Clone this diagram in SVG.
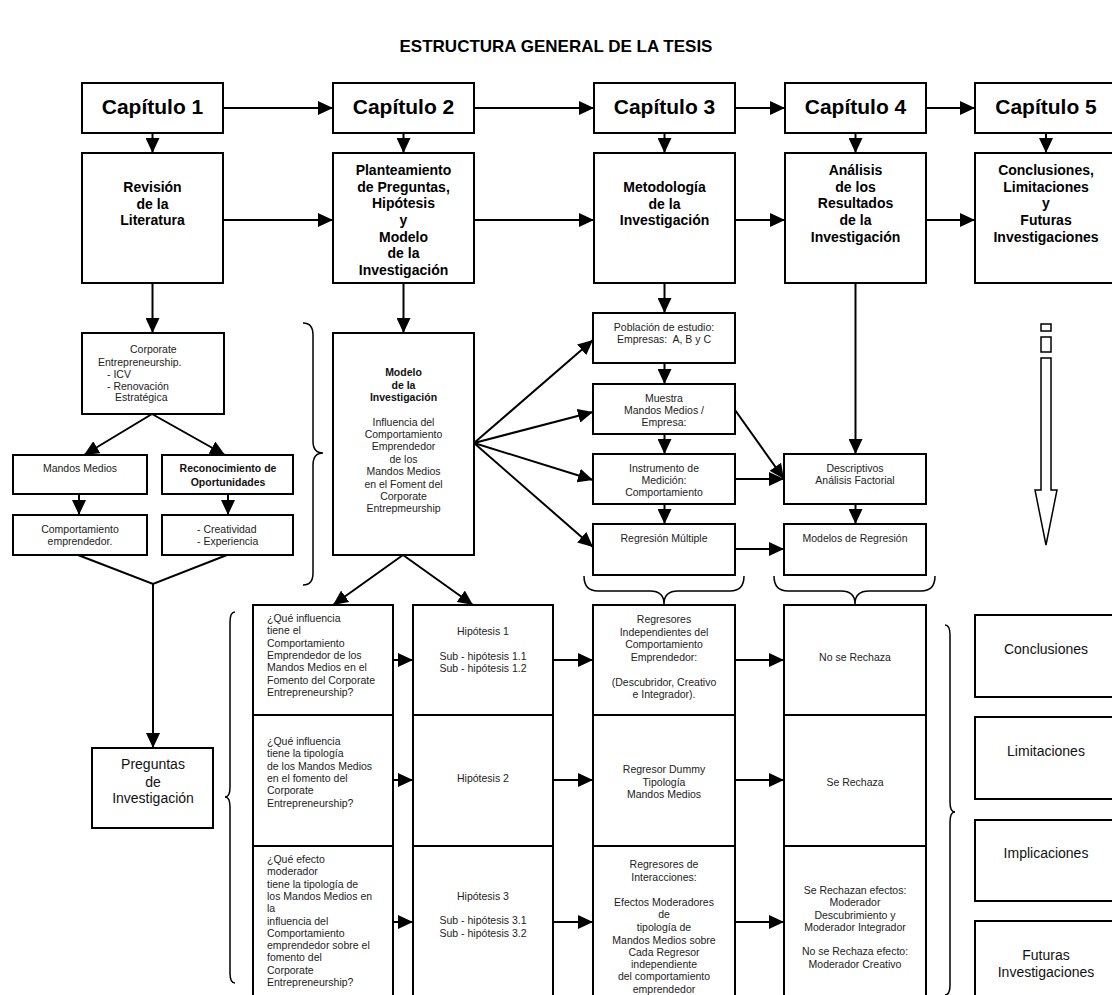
<svg xmlns="http://www.w3.org/2000/svg" width="1112" height="995" viewBox="0 0 1112 995">
<defs>
<marker id="ah" markerUnits="userSpaceOnUse" markerWidth="15" markerHeight="14" refX="15" refY="7" orient="auto">
<path d="M0,0 L15,7 L0,14 z" fill="#000"/>
</marker>
<style>
.box{fill:#fff;stroke:#000;stroke-width:2}
.title{font:bold 17px "Liberation Sans",Arial,sans-serif;text-anchor:middle;fill:#000}
.cap{font:bold 21px "Liberation Sans",Arial,sans-serif;text-anchor:middle;fill:#000}
.bt{font:bold 14px "Liberation Sans",Arial,sans-serif;text-anchor:middle;fill:#000}
.sb{font:bold 10.5px "Liberation Sans",Arial,sans-serif;text-anchor:middle;fill:#111}
.st{font:10.5px "Liberation Sans",Arial,sans-serif;text-anchor:middle;fill:#222}
.sl{font:10.5px "Liberation Sans",Arial,sans-serif;text-anchor:start;fill:#222}
.lt{font:14px "Liberation Sans",Arial,sans-serif;text-anchor:middle;fill:#111}
.c{stroke:#000;stroke-width:2;fill:none;marker-end:url(#ah)}
.l{stroke:#000;stroke-width:2;fill:none}
.br{stroke:#000;stroke-width:1.5;fill:none}
</style>
</defs>
<rect width="1112" height="995" fill="#fff"/>
<text class="title" x="556" y="52">ESTRUCTURA GENERAL DE LA TESIS</text>

<g id="connectors">
<line class="c" x1="223" y1="108" x2="333" y2="108"/>
<line class="c" x1="474" y1="108" x2="594" y2="108"/>
<line class="c" x1="735" y1="108" x2="785" y2="108"/>
<line class="c" x1="926" y1="108" x2="975" y2="108"/>
<line class="c" x1="223" y1="220" x2="333" y2="220"/>
<line class="c" x1="474" y1="220" x2="594" y2="220"/>
<line class="c" x1="735" y1="220" x2="785" y2="220"/>
<line class="c" x1="926" y1="220" x2="975" y2="220"/>
<line class="c" x1="152.5" y1="133" x2="152.5" y2="153"/>
<line class="c" x1="403.5" y1="133" x2="403.5" y2="153"/>
<line class="c" x1="664.5" y1="133" x2="664.5" y2="153"/>
<line class="c" x1="855.5" y1="133" x2="855.5" y2="153"/>
<line class="c" x1="1046" y1="133" x2="1046" y2="153"/>
<line class="c" x1="152.5" y1="283" x2="152.5" y2="333"/>
<line class="c" x1="403.5" y1="283" x2="403.5" y2="333"/>
<line class="c" x1="664.5" y1="283" x2="664.5" y2="313"/>
<line class="c" x1="855.5" y1="283" x2="855.5" y2="454"/>
<line class="c" x1="152" y1="414" x2="84" y2="455"/>
<line class="c" x1="152" y1="414" x2="225" y2="455"/>
<line class="c" x1="79" y1="494" x2="79" y2="515"/>
<line class="c" x1="228" y1="494" x2="228" y2="515"/>
<polyline class="l" points="78,555 153,584 227,555"/>
<line class="c" x1="153" y1="584" x2="153" y2="748"/>
<line class="c" x1="474" y1="443" x2="593" y2="340"/>
<line class="c" x1="474" y1="443" x2="593" y2="412"/>
<line class="c" x1="474" y1="443" x2="593" y2="480"/>
<line class="c" x1="474" y1="443" x2="593" y2="547"/>
<line class="c" x1="664.5" y1="363" x2="664.5" y2="384"/>
<line class="c" x1="664.5" y1="434" x2="664.5" y2="454"/>
<line class="c" x1="664.5" y1="504" x2="664.5" y2="524"/>
<line class="c" x1="735" y1="410" x2="784" y2="479"/>
<line class="c" x1="735" y1="479" x2="784" y2="479"/>
<line class="c" x1="735" y1="549" x2="784" y2="549"/>
<line class="c" x1="855.5" y1="504" x2="855.5" y2="524"/>
<line class="c" x1="403" y1="555" x2="333" y2="605"/>
<line class="c" x1="403" y1="555" x2="473" y2="605"/>
<line class="c" x1="393" y1="660" x2="413" y2="660"/>
<line class="c" x1="393" y1="780" x2="413" y2="780"/>
<line class="c" x1="393" y1="922" x2="413" y2="922"/>
<line class="c" x1="553" y1="660" x2="593" y2="660"/>
<line class="c" x1="553" y1="780" x2="593" y2="780"/>
<line class="c" x1="553" y1="922" x2="593" y2="922"/>
<line class="c" x1="735" y1="660" x2="784" y2="660"/>
<line class="c" x1="735" y1="780" x2="784" y2="780"/>
<line class="c" x1="735" y1="922" x2="784" y2="922"/>
</g>

<g id="braces">
<path class="br" d="M303,323 Q313,323 313,335 L313,441 Q313,453 323,453 Q313,453 313,465 L313,573 Q313,585 303,585"/>
<path class="br" d="M235,612 Q230,612 230,622 L230,787 Q230,797 225,797 Q230,797 230,807 L230,973 Q230,983 235,983"/>
<path class="br" d="M945,625 Q950,625 950,635 L950,802 Q950,812 955,812 Q950,812 950,822 L950,985 Q950,995 945,995"/>
<path class="br" d="M584,576 Q584,591 598,591 L650,591 Q664,591 664,604 Q664,591 678,591 L730,591 Q744,591 744,576"/>
<path class="br" d="M774,576 Q774,591 788,591 L841,591 Q855,591 855,604 Q855,591 869,591 L921,591 Q935,591 935,576"/>
</g>

<g id="cap1"><rect class="box" x="82" y="83" width="141" height="50"/><text class="cap" x="152.5" y="114">Capítulo 1</text></g>
<g id="cap2"><rect class="box" x="333" y="83" width="141" height="50"/><text class="cap" x="403.5" y="114">Capítulo 2</text></g>
<g id="cap3"><rect class="box" x="594" y="83" width="141" height="50"/><text class="cap" x="664.5" y="114">Capítulo 3</text></g>
<g id="cap4"><rect class="box" x="785" y="83" width="141" height="50"/><text class="cap" x="855.5" y="114">Capítulo 4</text></g>
<g id="cap5"><rect class="box" x="975" y="83" width="142" height="50"/><text class="cap" x="1046" y="114">Capítulo 5</text></g>

<g id="revision"><rect class="box" x="82" y="153" width="141" height="130"/>
<text class="bt" x="152.5" y="192">Revisión</text><text class="bt" x="152.5" y="209">de la</text><text class="bt" x="152.5" y="225">Literatura</text></g>
<g id="planteamiento"><rect class="box" x="333" y="153" width="141" height="130"/>
<text class="bt" x="403.5" y="175">Planteamiento</text><text class="bt" x="403.5" y="192">de Preguntas,</text><text class="bt" x="403.5" y="208">Hipótesis</text><text class="bt" x="403.5" y="225">y</text><text class="bt" x="403.5" y="242">Modelo</text><text class="bt" x="403.5" y="258">de la</text><text class="bt" x="403.5" y="275">Investigación</text></g>
<g id="metodologia"><rect class="box" x="594" y="153" width="141" height="130"/>
<text class="bt" x="664.5" y="192">Metodología</text><text class="bt" x="664.5" y="209">de la</text><text class="bt" x="664.5" y="225">Investigación</text></g>
<g id="analisis"><rect class="box" x="785" y="153" width="141" height="130"/>
<text class="bt" x="855.5" y="175">Análisis</text><text class="bt" x="855.5" y="192">de los</text><text class="bt" x="855.5" y="208">Resultados</text><text class="bt" x="855.5" y="225">de la</text><text class="bt" x="855.5" y="242">Investigación</text></g>
<g id="conclusiones-cap"><rect class="box" x="975" y="153" width="142" height="130"/>
<text class="bt" x="1046" y="175">Conclusiones,</text><text class="bt" x="1046" y="192">Limitaciones</text><text class="bt" x="1046" y="208">y</text><text class="bt" x="1046" y="225">Futuras</text><text class="bt" x="1046" y="242">Investigaciones</text></g>

<g id="corporate"><rect class="box" x="82" y="333" width="142" height="81"/>
<text class="sl" x="130" y="353">Corporate</text><text class="sl" x="98" y="366">Entrepreneurship.</text><text class="sl" x="107" y="378">- ICV</text><text class="sl" x="107" y="390">- Renovación</text><text class="sl" x="115" y="401">Estratégica</text></g>
<g id="mandos"><rect class="box" x="13" y="455" width="134" height="39"/><text class="st" x="80" y="472">Mandos Medios</text></g>
<g id="reconocimiento"><rect class="box" x="162" y="455" width="131" height="39"/><text class="sb" x="228" y="472">Reconocimiento de</text><text class="sb" x="228" y="486">Oportunidades</text></g>
<g id="comportamiento"><rect class="box" x="13" y="515" width="134" height="40"/><text class="st" x="80" y="533">Comportamiento</text><text class="st" x="80" y="545">emprendedor.</text></g>
<g id="creatividad"><rect class="box" x="162" y="515" width="131" height="40"/><text class="sl" x="197" y="533">- Creatividad</text><text class="sl" x="197" y="545">- Experiencia</text></g>
<g id="preguntas"><rect class="box" x="92" y="748" width="121" height="80"/><text class="lt" x="153" y="769">Preguntas</text><text class="lt" x="153" y="787">de</text><text class="lt" x="153" y="803">Investigación</text></g>

<g id="modelo"><rect class="box" x="333" y="333" width="141" height="222"/>
<text class="sb" x="403.5" y="376">Modelo</text><text class="sb" x="403.5" y="389">de la</text><text class="sb" x="403.5" y="401">Investigación</text>
<text class="st" x="403.5" y="426">Influencia del</text><text class="st" x="403.5" y="438">Comportamiento</text><text class="st" x="403.5" y="450">Emprendedor</text><text class="st" x="403.5" y="463">de los</text><text class="st" x="403.5" y="475">Mandos Medios</text><text class="st" x="403.5" y="488">en el Foment del</text><text class="st" x="403.5" y="500">Corporate</text><text class="st" x="403.5" y="512">Entrepmeurship</text></g>

<g id="poblacion"><rect class="box" x="593" y="313" width="142" height="50"/><text class="st" x="664" y="331">Población de estudio:</text><text class="st" x="664" y="343" xml:space="preserve">Empresas:  A, B y C</text></g>
<g id="muestra"><rect class="box" x="593" y="384" width="142" height="50"/><text class="st" x="664" y="402">Muestra</text><text class="st" x="664" y="414">Mandos Medios /</text><text class="st" x="664" y="426">Empresa:</text></g>
<g id="instrumento"><rect class="box" x="593" y="454" width="142" height="50"/><text class="st" x="664" y="472">Instrumento de</text><text class="st" x="664" y="484">Medición:</text><text class="st" x="664" y="496">Comportamiento</text></g>
<g id="regresion"><rect class="box" x="593" y="524" width="142" height="51"/><text class="st" x="664" y="542">Regresión Múltiple</text></g>
<g id="descriptivos"><rect class="box" x="784" y="454" width="142" height="50"/><text class="st" x="855" y="472">Descriptivos</text><text class="st" x="855" y="484">Análisis Factorial</text></g>
<g id="modelos"><rect class="box" x="784" y="524" width="142" height="51"/><text class="st" x="855" y="542">Modelos de Regresión</text></g>

<g id="hollow-arrow">
<rect x="1041" y="324" width="10" height="7" fill="#fff" stroke="#000" stroke-width="1.5"/>
<rect x="1041" y="337" width="10" height="15" fill="#fff" stroke="#000" stroke-width="1.5"/>
<polygon points="1041,358 1051,358 1051,490 1057,490 1046,545 1035,490 1041,490" fill="#fff" stroke="#000" stroke-width="1.5"/>
</g>

<g id="q1"><rect class="box" x="253" y="605" width="140" height="110"/>
<text class="sl" x="267" y="622">¿Qué influencia</text><text class="sl" x="267" y="634.3">tiene el</text><text class="sl" x="267" y="646.6">Comportamiento</text><text class="sl" x="267" y="658.9">Emprendedor de los</text><text class="sl" x="267" y="671.2">Mandos Medios en el</text><text class="sl" x="267" y="683.5">Fomento del Corporate</text><text class="sl" x="267" y="695.8">Entrepreneurship?</text></g>
<g id="q2"><rect class="box" x="253" y="715" width="140" height="131"/>
<text class="sl" x="267" y="745">¿Qué influencia</text><text class="sl" x="267" y="757.3">tiene la tipología</text><text class="sl" x="267" y="769.6">de los Mandos Medios</text><text class="sl" x="267" y="781.9">en el fomento del</text><text class="sl" x="267" y="794.2">Corporate</text><text class="sl" x="267" y="806.5">Entrepreneurship?</text></g>
<g id="q3"><rect class="box" x="253" y="846" width="140" height="160"/>
<text class="sl" x="267" y="863">¿Qué efecto</text><text class="sl" x="267" y="875.3">moderador</text><text class="sl" x="267" y="887.6">tiene la tipología de</text><text class="sl" x="267" y="899.9">los Mandos Medios en</text><text class="sl" x="267" y="912.2">la</text><text class="sl" x="267" y="924.5">influencia del</text><text class="sl" x="267" y="936.8">Comportamiento</text><text class="sl" x="267" y="949.1">emprendedor sobre el</text><text class="sl" x="267" y="961.4">fomento del</text><text class="sl" x="267" y="973.7">Corporate</text><text class="sl" x="267" y="986">Entrepreneurship?</text></g>

<g id="h1"><rect class="box" x="413" y="605" width="140" height="110"/><text class="st" x="483" y="635">Hipótesis 1</text><text class="st" x="483" y="660">Sub - hipótesis 1.1</text><text class="st" x="483" y="672">Sub - hipótesis 1.2</text></g>
<g id="h2"><rect class="box" x="413" y="715" width="140" height="131"/><text class="st" x="483" y="782">Hipótesis 2</text></g>
<g id="h3"><rect class="box" x="413" y="846" width="140" height="160"/><text class="st" x="483" y="900">Hipótesis 3</text><text class="st" x="483" y="924">Sub - hipótesis 3.1</text><text class="st" x="483" y="937">Sub - hipótesis 3.2</text></g>

<g id="r1"><rect class="box" x="593" y="605" width="142" height="110"/>
<text class="st" x="664" y="623">Regresores</text><text class="st" x="664" y="636">Independientes del</text><text class="st" x="664" y="648">Comportamiento</text><text class="st" x="664" y="661">Emprendedor:</text><text class="st" x="664" y="685.5">(Descubridor, Creativo</text><text class="st" x="664" y="698">e Integrador).</text></g>
<g id="r2"><rect class="box" x="593" y="715" width="142" height="131"/>
<text class="st" x="664" y="773">Regresor Dummy</text><text class="st" x="664" y="785.5">Tipología</text><text class="st" x="664" y="798">Mandos Medios</text></g>
<g id="r3"><rect class="box" x="593" y="846" width="142" height="160"/>
<text class="st" x="664" y="868">Regresores de</text><text class="st" x="664" y="880.5">Interacciones:</text><text class="st" x="664" y="906">Efectos Moderadores</text><text class="st" x="664" y="918">de</text><text class="st" x="664" y="930.5">tipología de</text><text class="st" x="664" y="943.5">Mandos Medios sobre</text><text class="st" x="664" y="955.6">Cada Regresor</text><text class="st" x="664" y="968">independiente</text><text class="st" x="664" y="980">del comportamiento</text><text class="st" x="664" y="993">emprendedor</text></g>

<g id="d1"><rect class="box" x="784" y="605" width="142" height="110"/><text class="st" x="855" y="661">No se Rechaza</text></g>
<g id="d2"><rect class="box" x="784" y="715" width="142" height="131"/><text class="st" x="855" y="785.5">Se Rechaza</text></g>
<g id="d3"><rect class="box" x="784" y="846" width="142" height="160"/>
<text class="st" x="855" y="893.5">Se Rechazan efectos:</text><text class="st" x="855" y="906">Moderador</text><text class="st" x="855" y="918.5">Descubrimiento y</text><text class="st" x="855" y="931">Moderador Integrador</text><text class="st" x="855" y="955">No se Rechaza efecto:</text><text class="st" x="855" y="968">Moderador Creativo</text></g>

<g id="conclusiones"><rect class="box" x="975" y="615" width="142" height="82"/><text class="lt" x="1046" y="654">Conclusiones</text></g>
<g id="limitaciones"><rect class="box" x="975" y="717" width="142" height="82"/><text class="lt" x="1046" y="756">Limitaciones</text></g>
<g id="implicaciones"><rect class="box" x="975" y="820" width="142" height="81"/><text class="lt" x="1046" y="858">Implicaciones</text></g>
<g id="futuras"><rect class="box" x="975" y="921" width="142" height="90"/><text class="lt" x="1046" y="960">Futuras</text><text class="lt" x="1046" y="977">Investigaciones</text></g>
</svg>
